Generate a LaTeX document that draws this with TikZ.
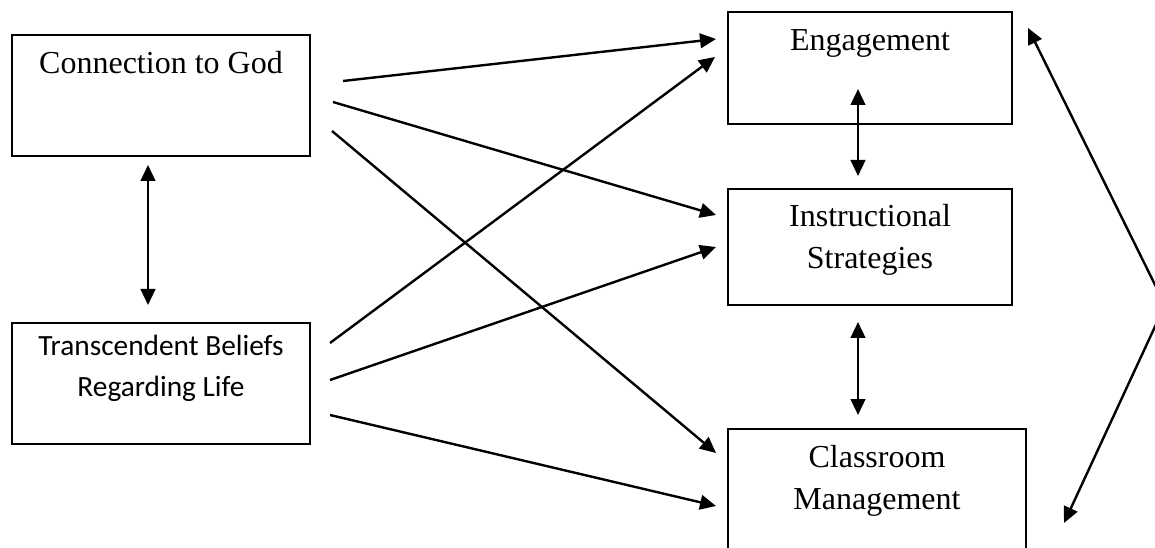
\documentclass[tikz,border=0pt]{standalone}
\usepackage{fontspec}
\setmainfont{Liberation Serif}
\newfontfamily\calibri{Carlito}
\usetikzlibrary{arrows.meta,calc,fit}
\begin{document}
\begin{tikzpicture}[x=0.75pt,y=-0.75pt,
  >={Triangle[length=12pt,width=11pt]},
  box/.style={draw,line width=1.5pt,inner sep=0pt},
  serifname/.style={font=\fontsize{24}{31.5}\selectfont,align=center,inner sep=0pt},
  sansname/.style={font=\calibri\fontsize{22}{30.75}\selectfont,align=center,inner sep=0pt},
  link/.style={->,line width=1.8pt},
  twoway/.style={<->,line width=1.8pt}]
\path[use as bounding box,clip] (0,0) rectangle (1155,548);
% boxes
\node[box,fit={(12,35) (310,156)}] (god) {};
\node[box,fit={(12,323) (310,444)}] (beliefs) {};
\node[box,fit={(728,12) (1012,124)}] (engage) {};
\node[box,fit={(728,189) (1012,305)}] (strat) {};
\node[box,fit={(728,429) (1026,570)}] (manage) {};
% texts, base = last line
\node[serifname,anchor=base] (godtxt) at ($(god.north)+(0,40)$) {Connection to God};
\node[sansname,anchor=base] (beliefstxt) at ($(beliefs.north)+(0,75)$) {Transcendent Beliefs\\Regarding Life};
\node[serifname,anchor=base] (engagetxt) at ($(engage.north)+(0,40)$) {Engagement};
\node[serifname,anchor=base] (strattxt) at ($(strat.north)+(0,81)$) {Instructional\\Strategies};
\node[serifname,anchor=base] (managetxt) at ($(manage.north)+(0,81)$) {Classroom\\Management};
% arrow ends
\coordinate (g1) at (343,81);
\coordinate (g2) at (333,102);
\coordinate (g3) at (332,131);
\coordinate (b1) at (330,343);
\coordinate (b2) at (330,380);
\coordinate (b3) at (330,415);
\coordinate (e1) at (716,39);
\coordinate (e2) at (715,57);
\coordinate (s1) at (716,215);
\coordinate (s2) at (716,247);
\coordinate (m1) at (716,453);
\coordinate (m2) at (716,506);
\draw[link] (g1) -- (e1);
\draw[link] (g2) -- (s1);
\draw[link] (g3) -- (m1);
\draw[link] (b1) -- (e2);
\draw[link] (b2) -- (s2);
\draw[link] (b3) -- (m2);
% two-way arrows
\coordinate (l1) at (148,165);
\coordinate (l2) at (148,305);
\coordinate (es1) at (858,89);
\coordinate (es2) at (858,176);
\coordinate (sm1) at (858,322);
\coordinate (sm2) at (858,415);
\coordinate (r1) at (1028,28);
\coordinate (apex) at (1165,305);
\coordinate (r2) at (1064,523);
\draw[twoway] (l1) -- (l2);
\draw[twoway] (es1) -- (es2);
\draw[twoway] (sm1) -- (sm2);
\draw[twoway] (r1) -- (apex) -- (r2);
\end{tikzpicture}
\end{document}
